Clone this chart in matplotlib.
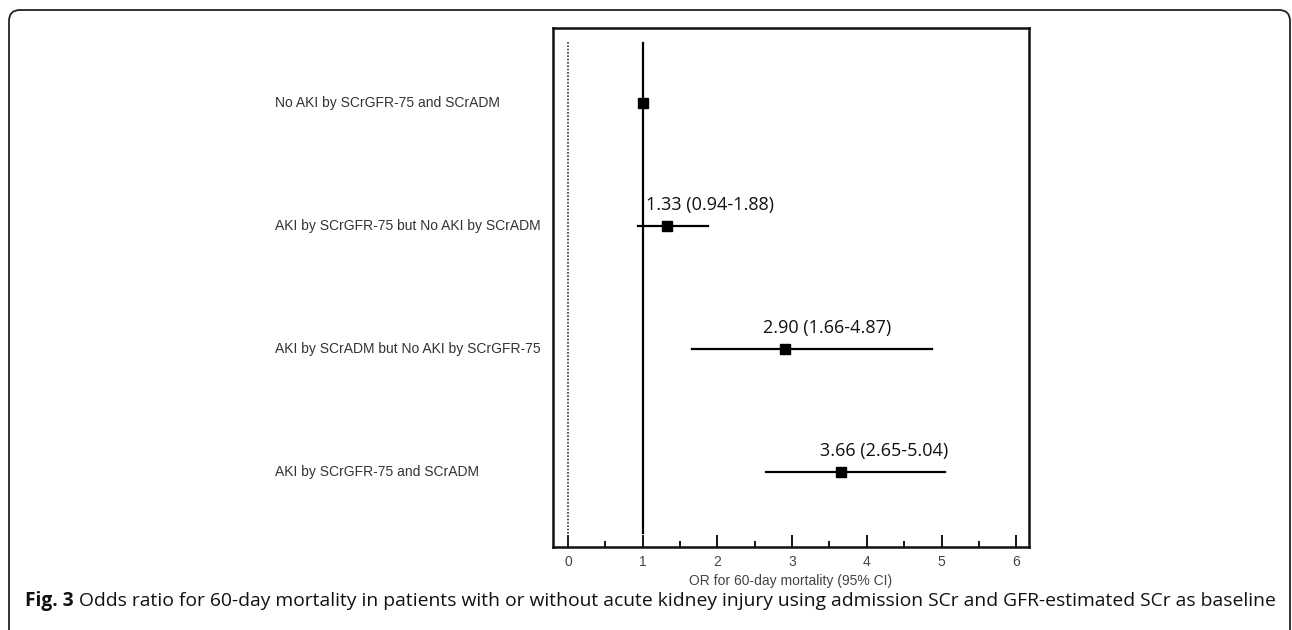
import matplotlib
matplotlib.use("Agg")
import matplotlib.pyplot as plt
import matplotlib.transforms as mtransforms
from matplotlib.path import Path
from matplotlib.patches import PathPatch
import matplotlib.ticker as mticker

labels = [
    "No AKI by SCrGFR-75 and SCrADM",
    "AKI by SCrGFR-75 but No AKI by SCrADM",
    "AKI by SCrADM but No AKI by SCrGFR-75",
    "AKI by SCrGFR-75 and SCrADM",
]
odds = [1.00, 1.33, 2.90, 3.66]
ci_low = [1.00, 0.94, 1.66, 2.65]
ci_high = [1.00, 1.88, 4.87, 5.04]
annot = ["", "1.33 (0.94-1.88)", "2.90 (1.66-4.87)", "3.66 (2.65-5.04)"]
xticks = [0, 1, 2, 3, 4, 5, 6]

W, H = 1292, 630
fig = plt.figure(figsize=(W / 100, H / 100), dpi=100)

# axes box in pixel coordinates
left, right, top, bottom = 553, 1029, 28, 547
ax = fig.add_axes([left / W, 1 - bottom / H, (right - left) / W, (bottom - top) / H])
ax.set_xlim(-0.2, 6.17)
ax.set_ylim(3.61, -0.61)

ypos = list(range(len(labels)))

# reference lines
ax.plot([0, 0], [-0.5, 3.61], color="#333333", lw=1.2, ls=(0, (1, 1)))
ax.plot([1, 1], [-0.49, 3.5], color="black", lw=1.6)

for y, o, lo, hi, a in zip(ypos, odds, ci_low, ci_high, annot):
    ax.plot([lo, hi], [y, y], color="black", lw=1.6)
    ax.plot([o], [y], marker="s", ms=7, color="black", mec="black")
    if a:
        ax.text(o - 0.29, y - 0.1, a, fontsize=13, family="Open Sans",
                color="#111111", ha="left", va="bottom")

trans = mtransforms.blended_transform_factory(fig.transFigure, ax.transData)
for y, lab in zip(ypos, labels):
    ax.text(275 / W, y, lab, fontsize=10, family="Liberation Sans", color="#333333",
            ha="left", va="center", transform=trans)

ax.set_yticks([])
ax.set_xticks(xticks)
ax.xaxis.set_minor_locator(mticker.FixedLocator([0.5, 1.5, 2.5, 3.5, 4.5, 5.5]))
ax.tick_params(axis="x", which="major", direction="in", length=8.5, width=1.3,
               labelsize=10, labelcolor="#444444", pad=6)
ax.tick_params(axis="x", which="minor", direction="in", length=4, width=1.3)
for lbl in ax.get_xticklabels():
    lbl.set_family("Liberation Sans")
for s in ax.spines.values():
    s.set_linewidth(1.8)
    s.set_color("#111111")
ax.set_xlabel("OR for 60-day mortality (95% CI)", fontsize=10, family="Liberation Sans",
              color="#444444", labelpad=3)

# outer frame with rounded top corners
r = 11
fx0, fx1, fy0 = 9, 1290, 10
def px(x, y):
    return (x / W, 1 - y / H)
verts = [px(fx0, H + 2), px(fx0, fy0 + r), px(fx0, fy0), px(fx0 + r, fy0),
         px(fx1 - r, fy0), px(fx1, fy0), px(fx1, fy0 + r), px(fx1, H + 2)]
codes = [Path.MOVETO, Path.LINETO, Path.CURVE3, Path.CURVE3,
         Path.LINETO, Path.CURVE3, Path.CURVE3, Path.LINETO]
fig.patches.append(PathPatch(Path(verts, codes), transform=fig.transFigure,
                             fill=False, lw=1.3, edgecolor="#222222"))

# caption
cap_y = 1 - 601 / H
t1 = fig.text(25 / W, cap_y, "Fig. 3", fontsize=13.8, family="Open Sans", weight="bold",
              color="#111111", ha="left", va="center")
fig.canvas.draw()
bb = t1.get_window_extent()
fig.text((bb.x1 + 5) / W, cap_y,
         "Odds ratio for 60-day mortality in patients with or without acute kidney injury using admission SCr and GFR-estimated SCr as baseline",
         fontsize=13.9, family="Open Sans", color="#111111", ha="left", va="center")

fig.savefig("out.png", dpi=100)
